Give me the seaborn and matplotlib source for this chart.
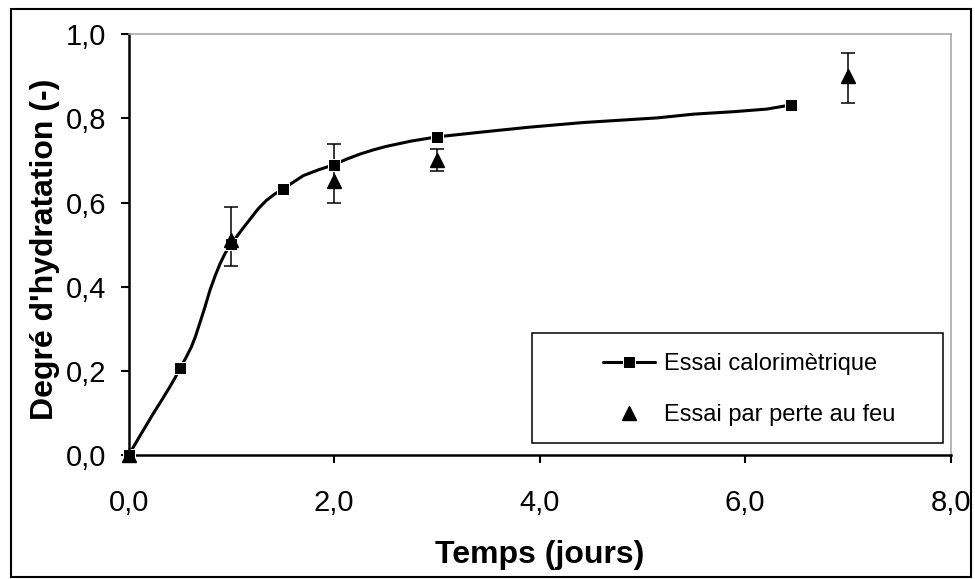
import matplotlib
matplotlib.use("Agg")
import matplotlib.pyplot as plt
import seaborn as sns
import pandas as pd
from matplotlib.ticker import FuncFormatter
from matplotlib.patches import Rectangle

# courbe calorimetrique
temps_calo = [0, 0.12, 0.24, 0.32, 0.40, 0.45, 0.5, 0.55, 0.61, 0.65, 0.69, 0.74, 0.79,
              0.84, 0.89, 0.94, 1.0, 1.1, 1.18, 1.26, 1.34, 1.42, 1.5, 1.6, 1.7, 1.85,
              2.0, 2.12, 2.25, 2.38, 2.5, 2.75, 3.0, 3.46, 3.9, 4.42, 5.14, 5.5, 5.9,
              6.21, 6.45]
degre_calo = [0, 0.05, 0.099, 0.13, 0.162, 0.183, 0.207, 0.228, 0.257, 0.282, 0.312,
              0.35, 0.391, 0.425, 0.455, 0.48, 0.502, 0.535, 0.56, 0.585, 0.605, 0.62,
              0.632, 0.648, 0.664, 0.678, 0.690, 0.703, 0.715, 0.725, 0.733, 0.746,
              0.756, 0.768, 0.779, 0.790, 0.801, 0.810, 0.816, 0.822, 0.832]
# temps ou la courbe porte un marqueur
temps_marqueurs = [0, 0.5, 1.0, 1.5, 2.0, 3.0, 6.45]

# essai par perte au feu
temps_feu = [0, 1, 2, 3, 7]
degre_feu = [0, 0.51, 0.65, 0.70, 0.90]
err_bas = [0, 0.06, 0.05, 0.025, 0.064]
err_haut = [0, 0.08, 0.09, 0.027, 0.056]

sns.set_style("white")
plt.rcParams["font.family"] = ["Liberation Sans", "DejaVu Sans"]
plt.rcParams["text.color"] = "black"
plt.rcParams["axes.labelcolor"] = "black"

df_calo = pd.DataFrame({"t": temps_calo, "a": degre_calo})
df_feu = pd.DataFrame({"t": temps_feu, "a": degre_feu})
marqueurs_idx = [temps_calo.index(t) for t in temps_marqueurs]

fig = plt.figure(figsize=(9.75, 5.79), dpi=100)
ax = fig.add_axes([0.132, 0.214, 0.843, 0.727])

ax.errorbar(temps_feu, degre_feu, yerr=[err_bas, err_haut], fmt="none",
            ecolor="black", elinewidth=1.1, capsize=4.7, capthick=1.1, zorder=2)
sns.lineplot(data=df_calo, x="t", y="a", ax=ax, color="black", linewidth=2.2,
             marker="s", markersize=8.5, markevery=marqueurs_idx, sort=False,
             label="Essai calorimètrique", zorder=3, clip_on=False)
ax.plot(df_feu["t"], df_feu["a"], linestyle="none", marker="^", markersize=9.5,
        color="black", label="Essai par perte au feu", zorder=4, clip_on=False)

ax.set_xlim(0, 8)
ax.set_ylim(0, 1.0)
ax.set_xticks([0, 2, 4, 6, 8])
ax.set_yticks([0, 0.2, 0.4, 0.6, 0.8, 1.0])
fmt = FuncFormatter(lambda v, p: f"{v:.1f}".replace(".", ","))
ax.xaxis.set_major_formatter(fmt)
ax.yaxis.set_major_formatter(fmt)
ax.tick_params(axis="both", direction="out", length=6, width=1.5, labelsize=21,
               color="black", labelcolor="black")
ax.tick_params(axis="x", pad=18.5, bottom=True)
ax.tick_params(axis="y", pad=10, left=True)

ax.set_xlabel("Temps (jours)", fontsize=23, fontweight="bold")
ax.set_ylabel("Degré d'hydratation (-)", fontsize=23, fontweight="bold")
ax.xaxis.set_label_coords(0.5, -0.201)
ax.yaxis.set_label_coords(-0.084, 0.49)

for s in ["left", "bottom"]:
    ax.spines[s].set_color("black")
    ax.spines[s].set_linewidth(1.8)
for s in ["top", "right"]:
    ax.spines[s].set_color("#a0a0a0")
    ax.spines[s].set_linewidth(1.1)

# legende sans cadre + cadre dessine a part
leg = ax.legend(loc="center left", bbox_to_anchor=(0.5624, 0.1556),
                fontsize=17, frameon=False, borderpad=0, labelspacing=1.25,
                handlelength=2.2, handletextpad=0.4)
ax.add_patch(Rectangle((0.4906, 0.0285), 0.5, 0.2613, transform=ax.transAxes,
                       fill=False, edgecolor="black", linewidth=1.1, zorder=5))

# cadre exterieur
fig.patches.append(Rectangle((0.011, 0.004), 0.985, 0.98, transform=fig.transFigure,
                             fill=False, edgecolor="black", linewidth=1.5))

fig.savefig("out.png", dpi=100)
